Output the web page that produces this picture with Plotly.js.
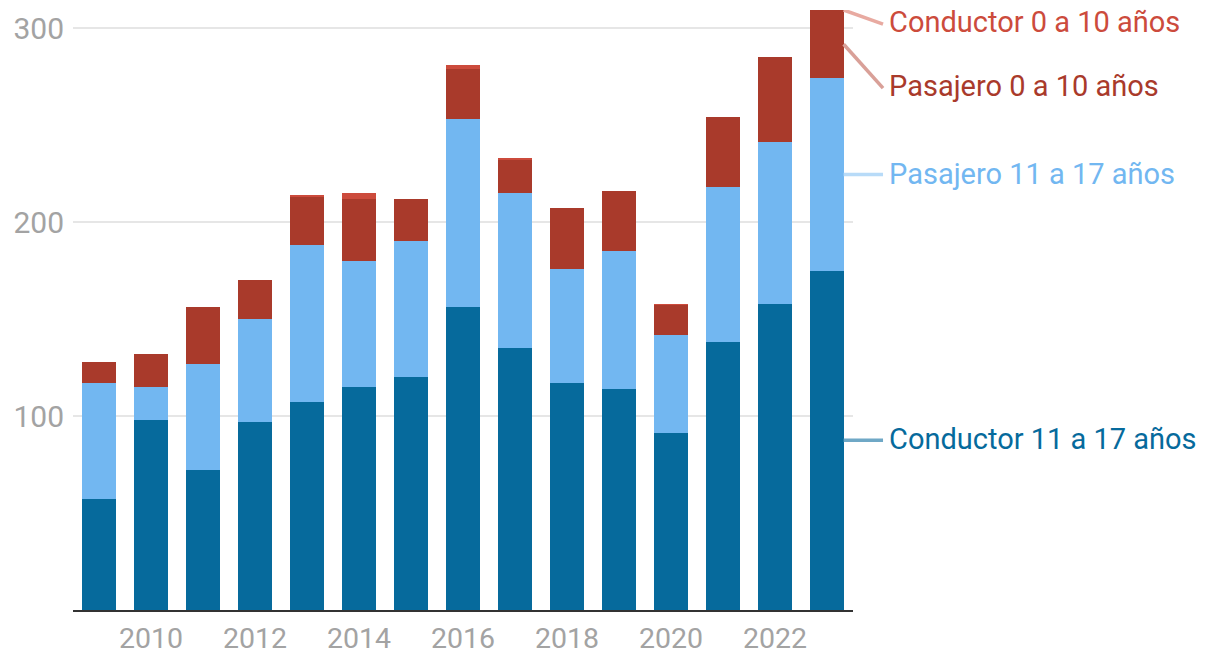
<!DOCTYPE html>
<html>
<head>
<meta charset="utf-8">
<script src="https://cdn.plot.ly/plotly-3.0.1.min.js"></script>
<style>
  html, body { margin: 0; padding: 0; background: #ffffff; }
  #chart { width: 1220px; height: 672px; }
</style>
</head>
<body>
<div id="chart"></div>
<script>
// ---- data ----
const years = [2009, 2010, 2011, 2012, 2013, 2014, 2015, 2016, 2017, 2018, 2019, 2020, 2021, 2022, 2023];
const conductor11a17 = [57, 98, 72, 97, 107, 115, 120, 156, 135, 117, 114, 91, 138, 158, 175];
const pasajero11a17  = [60, 17, 55, 53, 81, 65, 70, 97, 80, 59, 71, 51, 80, 83, 99];
const pasajero0a10   = [11, 17, 29, 20, 25, 32, 22, 26, 17, 31, 31, 15, 36, 44, 36];
const conductor0a10  = [0, 0, 0, 0, 1, 3, 0, 2, 1, 0, 0, 1, 0, 0, 2];
const seriesNames = ["Conductor 11 a 17 años", "Pasajero 11 a 17 años", "Pasajero 0 a 10 años", "Conductor 0 a 10 años"];
const xTickVals = [2010, 2012, 2014, 2016, 2018, 2020, 2022];
const yTickVals = [100, 200, 300];

// ---- styles ----
const colors = ["#066a9c", "#72b7f1", "#a93a2b", "#cc4b3c"];
const labelColors = ["#066a9c", "#72b7f1", "#a93a2b", "#cc4b3c"];
const lineColors = ["#6fa8c6", "#b8dbf8", "#d9a098", "#e8aaa1"];
const FONT = "Roboto, 'Liberation Sans', sans-serif";
const yMax = 309.3;

const seriesValues = [conductor11a17, pasajero11a17, pasajero0a10, conductor0a10];
const traces = seriesValues.map((vals, i) => ({
  type: "bar",
  name: seriesNames[i],
  x: years,
  y: vals,
  marker: { color: colors[i], line: { width: 0 } },
  hoverinfo: "x+y+name"
}));

// connector geometry from last bar's stacked segments
const last = years.length - 1;
const c1 = conductor11a17[last];
const p1 = c1 + pasajero11a17[last];
const p0 = p1 + pasajero0a10[last];

const xStart = 0.988, xEnd = 1.0385, xLabel = 1.0435;
// [startY, endY, labelY]
const conn = [
  [c1 / 2, c1 / 2, c1 / 2 + 0.8],
  [(c1 + p1) / 2, (c1 + p1) / 2, (c1 + p1) / 2 + 0.5],
  [(p1 + Math.min(p0, yMax)) / 2, 269, 270],
  [yMax, 302, 303]
];

const shapes = conn.map((g, i) => ({
  type: "line", xref: "paper", yref: "y",
  x0: xStart, x1: xEnd, y0: g[0], y1: g[1],
  line: { color: lineColors[i], width: 3.5 }
}));

const annotations = conn.map((g, i) => ({
  xref: "paper", yref: "y", x: xLabel, y: g[2],
  xanchor: "left", yanchor: "middle", showarrow: false,
  text: seriesNames[i],
  font: { family: FONT, size: 29, color: labelColors[i] }
}));

const layout = {
  width: 1220, height: 672,
  margin: { l: 73, r: 367, t: 10, b: 62 },
  barmode: "stack",
  bargap: 0.346,
  showlegend: false,
  paper_bgcolor: "#ffffff",
  plot_bgcolor: "#ffffff",
  font: { family: FONT, size: 28, color: "#a3a3a3" },
  xaxis: {
    range: [2008.5, 2023.5],
    tickmode: "array", tickvals: xTickVals, ticktext: xTickVals.map(String),
    showgrid: false, zeroline: false,
    showline: true, linecolor: "#333333", linewidth: 2,
    ticks: "", ticklabelstandoff: 2,
    tickfont: { family: FONT, size: 28.5, color: "#a3a3a3" }
  },
  yaxis: {
    range: [0, yMax],
    tickmode: "array", tickvals: yTickVals, ticktext: yTickVals.map(String),
    showgrid: true, gridcolor: "#e6e6e6", gridwidth: 2,
    zeroline: false, showline: false, ticks: "",
    ticklabelstandoff: 8,
    tickfont: { family: FONT, size: 30, color: "#a3a3a3" }
  },
  shapes: shapes,
  annotations: annotations
};

Plotly.newPlot("chart", traces, layout, { displayModeBar: false, staticPlot: true });
</script>
</body>
</html>
